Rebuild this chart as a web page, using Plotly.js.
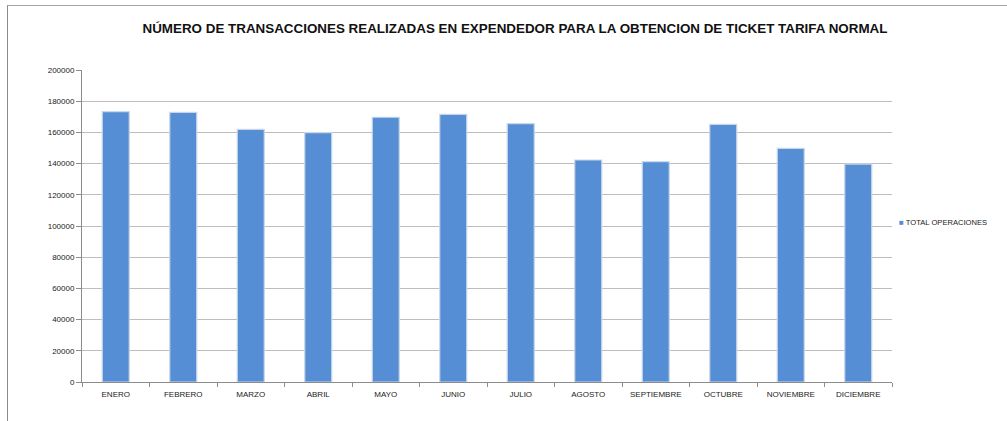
<!DOCTYPE html>
<html>
<head>
<meta charset="utf-8">
<script src="https://cdn.plot.ly/plotly-3.0.1.min.js"></script>
<style>
html,body{margin:0;padding:0;background:#fff;}
#wrap{position:relative;width:1007px;height:421px;overflow:hidden;}
#frame{position:absolute;left:7px;top:5px;width:1100px;height:500px;border-left:1.5px solid #8c8c8c;border-top:1.5px solid #a6a6a6;pointer-events:none;z-index:5;}
#chart{position:absolute;left:0;top:0;width:1007px;height:421px;}
</style>
</head>
<body>
<div id="wrap">
<div id="chart"></div>
<div id="frame"></div>
</div>
<script>
const months = ["ENERO","FEBRERO","MARZO","ABRIL","MAYO","JUNIO","JULIO","AGOSTO","SEPTIEMBRE","OCTUBRE","NOVIEMBRE","DICIEMBRE"];
const totalOperaciones = [173300,172900,162000,159800,169700,171600,165600,142300,141200,165200,149800,139700];
const seriesName = "TOTAL OPERACIONES";
const chartTitle = "NÚMERO DE TRANSACCIONES REALIZADAS EN EXPENDEDOR PARA LA OBTENCION DE TICKET TARIFA NORMAL";
const yTicks = [0,20000,40000,60000,80000,100000,120000,140000,160000,180000,200000];

const barColor = "#558ed5";
const trace = {
  type: "bar",
  x: months,
  y: totalOperaciones,
  name: seriesName,
  showlegend: false,
  marker: {color: barColor, line: {color: "#c9d6e8", width: 1.2}},
  hoverinfo: "x+y"
};

const layout = {
  width: 1007, height: 421,
  margin: {l: 82, r: 115, t: 70, b: 39},
  paper_bgcolor: "rgba(0,0,0,0)",
  plot_bgcolor: "#fff",
  font: {family: "Liberation Sans, Arial, sans-serif", color: "#222", size: 9},
  title: {text: "<b>" + chartTitle + "</b>", x: 0.5114, xanchor: "center", y: 0.933, yanchor: "middle",
          font: {family: "Liberation Sans, Arial", size: 13.4, color: "#111"}},
  bargap: 0.6,
  showlegend: false,
  annotations: [{
    xref: "paper", yref: "paper", x: 1.0065, y: 0.51, xanchor: "left", yanchor: "middle",
    showarrow: false, align: "left",
    text: "<span style='color:" + barColor + "; font-size:8px'>■</span> " + seriesName,
    font: {size: 7.6, color: "#222"}
  }],
  xaxis: {
    tickvals: months, ticktext: months,
    showline: true, linecolor: "#8c8c8c", linewidth: 1,
    ticks: "outside", ticklen: 4, tickcolor: "#8c8c8c", tickson: "boundaries",
    ticklabelstandoff: 4,
    tickfont: {size: 8, color: "#222"}, showgrid: false, zeroline: false
  },
  yaxis: {
    range: [0, 200000], tickvals: yTicks, ticktext: yTicks.map(String),
    showline: true, linecolor: "#8c8c8c", linewidth: 1,
    ticks: "outside", ticklen: 5, tickcolor: "#8c8c8c",
    showgrid: true, gridcolor: "#bdbdbd", gridwidth: 1,
    tickfont: {size: 8, color: "#222"}, zeroline: false
  }
};

Plotly.newPlot("chart", [trace], layout, {displayModeBar: false, staticPlot: true});
</script>
</body>
</html>
